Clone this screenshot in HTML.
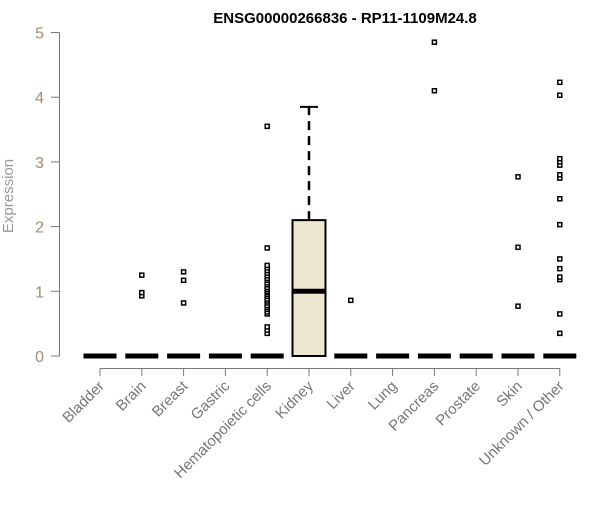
<!DOCTYPE html>
<html><head><meta charset="utf-8"><style>body{margin:0;background:#fff}svg{font-family:"Liberation Sans",sans-serif}</style></head>
<body>
<svg id="c" width="600" height="500">
<text x="345" y="23" text-anchor="middle" font-weight="bold" font-size="15">ENSG00000266836 - RP11-1109M24.8</text>
<text transform="translate(13,196) rotate(-90)" text-anchor="middle" font-size="15" fill="#999">Expression</text>
<g id="axes"></g><g id="marks"></g>
</svg>
<script>
const categories=["Bladder","Brain","Breast","Gastric","Hematopoietic cells","Kidney","Liver","Lung","Pancreas","Prostate","Skin","Unknown / Other"];
const q1=[0,0,0,0,0,0,0,0,0,0,0,0];
const medians=[0,0,0,0,0,1,0,0,0,0,0,0];
const q3=[0,0,0,0,0,2.1,0,0,0,0,0,0];
const whiskerHigh=[0,0,0,0,0,3.85,0,0,0,0,0,0];
const outliers=[[],[0.93,0.98,1.25],[0.82,1.17,1.3],[],
[0.35,0.4,0.45,0.65,0.68,0.72,0.75,0.78,0.82,0.85,0.88,0.92,0.95,0.98,1.0,1.03,1.06,1.1,1.13,1.17,1.2,1.24,1.28,1.32,1.36,1.4,1.67,3.55],
[],[0.86],[],[4.1,4.85],[],[0.77,1.68,2.77],
[0.35,0.65,1.18,1.22,1.35,1.5,2.03,2.43,2.75,2.8,2.95,3.0,3.05,4.03,4.23]];
const yTicks=[0,1,2,3,4,5];
const NS="http://www.w3.org/2000/svg";
const y=v=>356-v*64.7, x=i=>100+i*41.8;
function mk(t,a,p){const e=document.createElementNS(NS,t);for(const k in a)e.setAttribute(k,a[k]);p.appendChild(e);return e;}
const ax=document.getElementById('axes'),mg=document.getElementById('marks');
let l=mk('line',{x1:59.5,x2:59.5,y1:y(5),y2:y(0),stroke:'#777'},ax);


yTicks.forEach(t=>{
 let tk=mk('line',{x1:51,x2:59.5,y1:y(t),y2:y(t),stroke:'#777'},ax);
 
 
 let tx=mk('text',{x:44,y:y(t)+6,'text-anchor':'end','font-size':16,fill:'#a08c74'},ax);
 tx.textContent=t;
 
 
});
let xl=mk('line',{x1:x(0),x2:x(categories.length-1),y1:368.5,y2:368.5,stroke:'#777'},ax);


categories.forEach((c,i)=>{
 let tk=mk('line',{x1:x(i),x2:x(i),y1:368.5,y2:376,stroke:'#777'},ax);
 
 
 let tx=mk('text',{transform:`translate(${x(i)+5},${387}) rotate(-45)`,'text-anchor':'end','font-size':15,fill:'#777'},ax);
 tx.textContent=c;
 
 
 const g=mk('g',{},mg);
 
 
 const w=33,cx=x(i);
 if(whiskerHigh[i]>q3[i]){
  mk('line',{x1:cx,x2:cx,y1:y(q3[i]),y2:y(whiskerHigh[i]),stroke:'#000','stroke-width':2.5,'stroke-dasharray':'9,6'},g);
  mk('line',{x1:cx-9,x2:cx+9,y1:y(whiskerHigh[i]),y2:y(whiskerHigh[i]),stroke:'#000','stroke-width':2},g);
 }
 if(q3[i]>q1[i]) mk('rect',{x:cx-w/2,y:y(q3[i]),width:w,height:y(q1[i])-y(q3[i]),fill:'#ede8cf',stroke:'#000','stroke-width':2},g);
 mk('line',{x1:cx-w/2,x2:cx+w/2,y1:y(medians[i]),y2:y(medians[i]),stroke:'#000','stroke-width':5},g);
 outliers[i].forEach(v=>{
  const p=mk('rect',{x:cx-2,y:y(v)-2,width:4,height:4,fill:'#fff',stroke:'#000','stroke-width':1.5},g);
  
  
 });
});
</script>
</body></html>
